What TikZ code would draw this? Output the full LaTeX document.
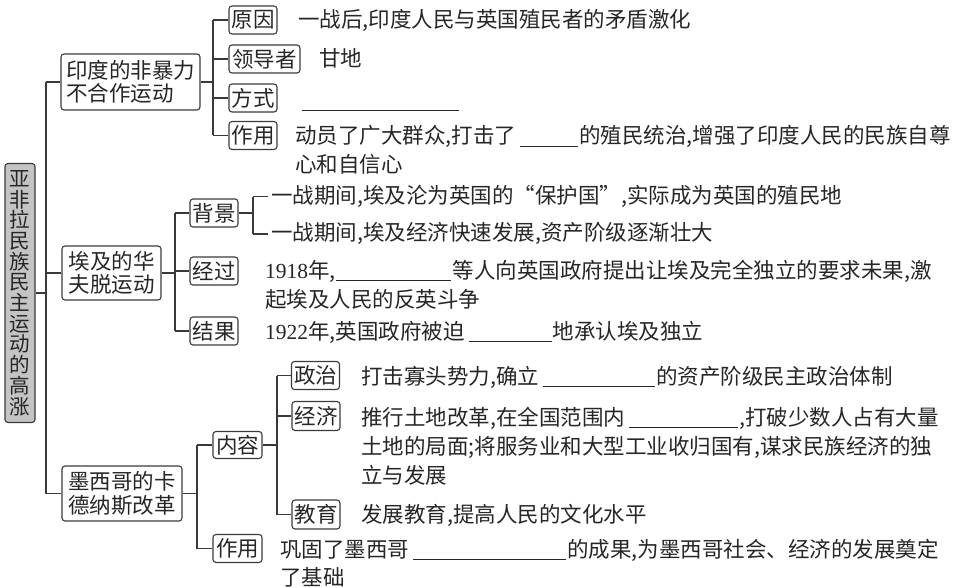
\documentclass[tikz,border=0pt]{standalone}
\usepackage{fontspec}
\newfontfamily\cjk{Noto Sans CJK SC}
\newfontfamily\lat{Liberation Serif}
\newcommand\blk[1]{\kern4pt\rule[-3pt]{#1}{0.9pt}\kern1pt}
\newcommand\lns[1]{\begin{tabular}[t]{@{}l@{}}#1\end{tabular}}
\definecolor{ink}{HTML}{262626}
\definecolor{ln}{HTML}{3A3A3A}
\definecolor{rootfill}{HTML}{C4C4C4}
\begin{document}
\begin{tikzpicture}[x=1pt,y=-1pt,
  every node/.style={text=ink},
  box/.style={draw=ln, line width=1.1pt, rounded corners=3pt, inner sep=0pt,
    font=\cjk\fontsize{21.5}{23.5}\selectfont, align=center},
  leaf/.style={box, minimum width=48pt, minimum height=28pt},
  txt/.style={anchor=base west, inner sep=0pt, font=\cjk\fontsize{21.5}{29}\selectfont},
  conn/.style={draw=ln, line width=1.1pt},
  blankline/.style={draw=ink, line width=0.9pt}]
\useasboundingbox (0,0) rectangle (956,588);

% root
\node[box, fill=rootfill, minimum width=30pt, minimum height=259pt, text width=24pt,
  font=\cjk\fontsize{20.5}{20.7}\selectfont] (root) at (20,293)
  {\setlength{\lineskiplimit}{-50pt}亚\\非\\拉\\民\\族\\民\\主\\运\\动\\的\\高\\涨};

% level 1
\node[box, minimum width=139pt, minimum height=56pt, align=left] (yd) at (130.5,82) {印度的非暴力\\不合作运动};
\node[box, minimum width=99pt, minimum height=54pt] (aj) at (111.5,273) {埃及的华\\夫脱运动};
\node[box, minimum width=120pt, minimum height=55pt] (mx) at (122,493.5) {墨西哥的卡\\德纳斯改革};

% India leaves
\node[leaf] (yy) at (253,20) {原因};
\node[leaf, minimum width=71pt] (ldz) at (264.5,59) {领导者};
\node[leaf] (fs) at (253,98) {方式};
\node[leaf] (zy1) at (253,135.5) {作用};

% Egypt leaves
\node[leaf] (bj) at (214,213) {背景};
\node[leaf] (jg) at (214,271) {经过};
\node[leaf] (jx) at (214,331) {结果};

% Mexico leaves
\node[leaf, minimum width=49pt, minimum height=27pt] (nr) at (237.5,445) {内容};
\node[leaf, minimum width=49pt] (zy2) at (237.5,548.5) {作用};
\node[leaf] (zz) at (315.5,375.5) {政治};
\node[leaf, minimum height=29pt] (jj) at (316,416) {经济};
\node[leaf, minimum height=29pt] (jy) at (316,514.5) {教育};

% helper x positions
\coordinate (tr) at (46,0);
\coordinate (b1) at (213,0);
\coordinate (b2) at (175,0);
\coordinate (b3) at (197,0);
\coordinate (b4) at (277,0);
\coordinate (bk) at (253,0);
\coordinate (se) at (268,0);

% trunk
\draw[conn] (root.east) -- (root.east -| tr);
\draw[conn] (yd.west -| tr) -- (mx.west -| tr);
\draw[conn] (yd.west -| tr) -- (yd.west);
\draw[conn] (aj.west -| tr) -- (aj.west);
\draw[conn] (mx.west -| tr) -- (mx.west);

% India branch
\draw[conn] (yd.east) -- (yd.east -| b1);
\draw[conn] (yy.west -| b1) -- (zy1.west -| b1);
\foreach \n in {yy,ldz,fs,zy1} \draw[conn] (\n.west -| b1) -- (\n.west);

% Egypt branch
\draw[conn] (aj.east) -- (aj.east -| b2);
\draw[conn] (bj.west -| b2) -- (jx.west -| b2);
\foreach \n in {bj,jg,jx} \draw[conn] (\n.west -| b2) -- (\n.west);

% Mexico branch
\draw[conn] (mx.east) -- (mx.east -| b3);
\draw[conn] (nr.west -| b3) -- (zy2.west -| b3);
\foreach \n in {nr,zy2} \draw[conn] (\n.west -| b3) -- (\n.west);
\draw[conn] (nr.east) -- (nr.east -| b4);
\draw[conn] (zz.west -| b4) -- (jy.west -| b4);
\foreach \n in {zz,jj,jy} \draw[conn] (\n.west -| b4) -- (\n.west);

% texts
\node[txt] (tyy) at (298,28) {一战后,印度人民与英国殖民者的矛盾激化};
\node[txt] (tld) at (319,67) {甘地};
\coordinate (fs1) at (302,110);
\coordinate (fs2) at (459,110);
\draw[blankline] (fs1) -- (fs2);
\node[txt] (tzy1) at (295,144) {\lns{动员了广大群众,打击了\blk{58pt}的殖民统治,增强了印度人民的民族自尊\\心和自信心}};

\node[txt] (tbj1) at (271,204) {一战期间,埃及沦为英国的“保护国”,实际成为英国的殖民地};
\node[txt] (tbj2) at (271,241) {一战期间,埃及经济快速发展,资产阶级逐渐壮大};
% bracket
\draw[conn] (bj.east) -- (bj.east -| bk);
\draw[conn] (bk |- tbj1.west) -- (bk |- tbj2.west);
\draw[conn] (bk |- tbj1.west) -- (se |- tbj1.west);
\draw[conn] (bk |- tbj2.west) -- (se |- tbj2.west);

\node[txt] (tjg) at (265,278) {\lns{{\lat 1918}年,\rule[-3pt]{115pt}{0.9pt}\kern2pt 等人向英国政府提出让埃及完全独立的要求未果,激\\起埃及人民的反英斗争}};
\node[txt] (tjx) at (265,339) {{\lat 1922}年,英国政府被迫\blk{83pt}地承认埃及独立};

\node[txt] (tzz) at (361,384) {打击寡头势力,确立\blk{112pt}的资产阶级民主政治体制};
\node[txt] (tjj) at (361,425) {\lns{推行土地改革,在全国范围内\blk{109pt},打破少数人占有大量\\土地的局面;将服务业和大型工业收归国有,谋求民族经济的独\\立与发展}};
\node[txt] (tjy) at (361,522) {发展教育,提高人民的文化水平};
\node[txt, font=\cjk\fontsize{21.5}{28.5}\selectfont] (tzy2) at (280,557) {\lns{巩固了墨西哥\blk{153pt}的成果,为墨西哥社会、经济的发展奠定\\了基础}};
\end{tikzpicture}
\end{document}
